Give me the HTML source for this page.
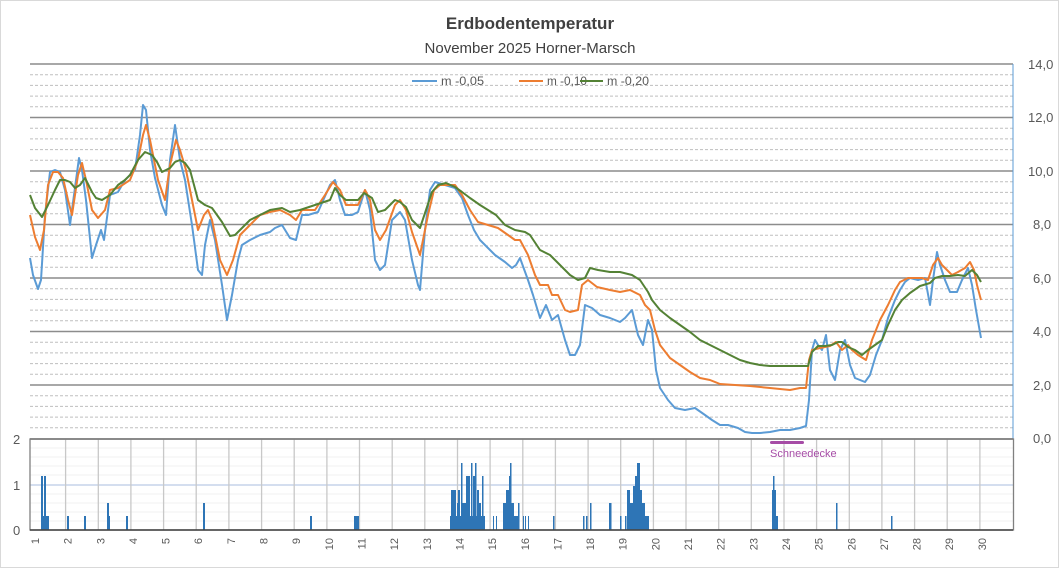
<!DOCTYPE html>
<html><head><meta charset="utf-8"><style>
html,body{margin:0;padding:0;background:#fff}
svg{display:block;font-family:"Liberation Sans",sans-serif}
</style></head><body>
<svg width="1059" height="568" viewBox="0 0 1059 568" xmlns="http://www.w3.org/2000/svg">
<rect x="0.5" y="0.5" width="1058" height="567" fill="#fff" stroke="#d9d9d9"/>
<text x="530" y="29" text-anchor="middle" font-size="17" font-weight="bold" fill="#404040">Erdbodentemperatur</text>
<text x="530" y="53" text-anchor="middle" font-size="15" fill="#404040">November  2025 Horner-Marsch</text>
<g stroke="#bfbfbf" stroke-width="1" stroke-dasharray="3,2">
<line x1="30" x2="1013" y1="74.7" y2="74.7"/><line x1="30" x2="1013" y1="85.4" y2="85.4"/><line x1="30" x2="1013" y1="96.1" y2="96.1"/><line x1="30" x2="1013" y1="106.8" y2="106.8"/>
<line x1="30" x2="1013" y1="128.2" y2="128.2"/><line x1="30" x2="1013" y1="138.9" y2="138.9"/><line x1="30" x2="1013" y1="149.6" y2="149.6"/><line x1="30" x2="1013" y1="160.3" y2="160.3"/>
<line x1="30" x2="1013" y1="181.7" y2="181.7"/><line x1="30" x2="1013" y1="192.4" y2="192.4"/><line x1="30" x2="1013" y1="203.1" y2="203.1"/><line x1="30" x2="1013" y1="213.8" y2="213.8"/>
<line x1="30" x2="1013" y1="235.2" y2="235.2"/><line x1="30" x2="1013" y1="245.9" y2="245.9"/><line x1="30" x2="1013" y1="256.6" y2="256.6"/><line x1="30" x2="1013" y1="267.3" y2="267.3"/>
<line x1="30" x2="1013" y1="288.7" y2="288.7"/><line x1="30" x2="1013" y1="299.4" y2="299.4"/><line x1="30" x2="1013" y1="310.1" y2="310.1"/><line x1="30" x2="1013" y1="320.8" y2="320.8"/>
<line x1="30" x2="1013" y1="342.2" y2="342.2"/><line x1="30" x2="1013" y1="352.9" y2="352.9"/><line x1="30" x2="1013" y1="363.6" y2="363.6"/><line x1="30" x2="1013" y1="374.3" y2="374.3"/>
<line x1="30" x2="1013" y1="395.7" y2="395.7"/><line x1="30" x2="1013" y1="406.4" y2="406.4"/><line x1="30" x2="1013" y1="417.1" y2="417.1"/><line x1="30" x2="1013" y1="427.8" y2="427.8"/>
</g>
<g stroke="#8c8c8c" stroke-width="1.5">
<line x1="30" x2="1013" y1="64" y2="64"/><line x1="30" x2="1013" y1="117.5" y2="117.5"/><line x1="30" x2="1013" y1="171" y2="171"/><line x1="30" x2="1013" y1="224.5" y2="224.5"/><line x1="30" x2="1013" y1="278" y2="278"/><line x1="30" x2="1013" y1="331.5" y2="331.5"/><line x1="30" x2="1013" y1="385" y2="385"/>
</g>
<line x1="1013" x2="1013" y1="64" y2="439" stroke="#5b9bd5" stroke-width="1"/>
<g font-size="13" fill="#595959">
<text x="1028" y="69">14,0</text><text x="1028" y="122">12,0</text><text x="1028" y="176">10,0</text><text x="1033" y="229">8,0</text><text x="1033" y="283">6,0</text><text x="1033" y="336">4,0</text><text x="1033" y="390">2,0</text><text x="1033" y="443">0,0</text>
</g>
<!-- legend -->
<g font-size="12" fill="#595959">
<line x1="412" x2="437" y1="81" y2="81" stroke="#5b9bd5" stroke-width="2"/><text x="441" y="85" textLength="43" lengthAdjust="spacingAndGlyphs">m -0,05</text>
<line x1="519" x2="543" y1="81" y2="81" stroke="#ed7d31" stroke-width="2"/><text x="547" y="85" textLength="40" lengthAdjust="spacingAndGlyphs">m -0,10</text>
<line x1="580" x2="603" y1="81" y2="81" stroke="#548235" stroke-width="2"/><text x="607" y="85" textLength="42" lengthAdjust="spacingAndGlyphs">m -0,20</text>
</g>
<!-- lower panel -->
<g stroke="#f0f0f0" stroke-width="1">
<line x1="30" x2="1013" y1="448" y2="448"/><line x1="30" x2="1013" y1="457" y2="457"/><line x1="30" x2="1013" y1="466" y2="466"/><line x1="30" x2="1013" y1="475" y2="475"/>
<line x1="30" x2="1013" y1="494" y2="494"/><line x1="30" x2="1013" y1="503" y2="503"/><line x1="30" x2="1013" y1="512" y2="512"/><line x1="30" x2="1013" y1="521" y2="521"/>
</g>
<line x1="30" x2="1013" y1="485" y2="485" stroke="#a9bedf" stroke-width="1"/>
<g stroke="#c8c8c8" stroke-width="1.3">
<line x1="65.6" x2="65.6" y1="439" y2="530"/><line x1="98.3" x2="98.3" y1="439" y2="530"/><line x1="130.9" x2="130.9" y1="439" y2="530"/><line x1="163.6" x2="163.6" y1="439" y2="530"/><line x1="196.2" x2="196.2" y1="439" y2="530"/><line x1="228.9" x2="228.9" y1="439" y2="530"/><line x1="261.6" x2="261.6" y1="439" y2="530"/><line x1="294.2" x2="294.2" y1="439" y2="530"/><line x1="326.9" x2="326.9" y1="439" y2="530"/><line x1="359.5" x2="359.5" y1="439" y2="530"/><line x1="392.2" x2="392.2" y1="439" y2="530"/><line x1="424.8" x2="424.8" y1="439" y2="530"/><line x1="457.5" x2="457.5" y1="439" y2="530"/><line x1="490.1" x2="490.1" y1="439" y2="530"/><line x1="522.8" x2="522.8" y1="439" y2="530"/><line x1="555.4" x2="555.4" y1="439" y2="530"/><line x1="588.1" x2="588.1" y1="439" y2="530"/><line x1="620.7" x2="620.7" y1="439" y2="530"/><line x1="653.4" x2="653.4" y1="439" y2="530"/><line x1="686" x2="686" y1="439" y2="530"/><line x1="718.7" x2="718.7" y1="439" y2="530"/><line x1="751.3" x2="751.3" y1="439" y2="530"/><line x1="784" x2="784" y1="439" y2="530"/><line x1="816.6" x2="816.6" y1="439" y2="530"/><line x1="849.3" x2="849.3" y1="439" y2="530"/><line x1="881.9" x2="881.9" y1="439" y2="530"/><line x1="914.6" x2="914.6" y1="439" y2="530"/><line x1="947.2" x2="947.2" y1="439" y2="530"/><line x1="979.9" x2="979.9" y1="439" y2="530"/>
</g>
<!-- bars -->
<g fill="#2e75b6">
<rect x="41" y="476" width="2" height="54"/><rect x="44" y="476" width="2" height="54"/><rect x="42" y="516" width="7" height="14"/>
<rect x="67" y="516" width="2" height="14"/><rect x="84" y="516" width="2" height="14"/><rect x="107" y="503" width="2" height="27"/><rect x="109" y="516" width="1" height="14"/><rect x="126" y="516" width="2" height="14"/>
<rect x="203" y="503" width="2" height="27"/><rect x="310" y="516" width="2" height="14"/><rect x="354" y="516" width="5" height="14"/>
<rect x="450" y="516" width="35" height="14"/><rect x="451" y="490" width="5" height="40"/><rect x="457" y="503" width="2" height="27"/><rect x="458" y="490" width="2" height="40"/><rect x="461" y="463" width="1.5" height="67"/><rect x="462" y="503" width="3" height="27"/><rect x="465" y="503" width="2" height="27"/><rect x="466" y="476" width="4" height="54"/><rect x="471" y="463" width="1.5" height="67"/><rect x="473" y="476" width="2" height="54"/><rect x="475" y="463" width="1.5" height="67"/><rect x="477" y="490" width="2" height="40"/><rect x="478" y="503" width="3" height="27"/><rect x="482" y="476" width="1.5" height="54"/>
<rect x="493" y="516" width="1" height="14"/><rect x="496" y="516" width="1" height="14"/><rect x="503" y="503" width="4" height="27"/><rect x="506" y="490" width="4" height="40"/><rect x="509" y="476" width="1" height="54"/><rect x="510" y="463" width="1.5" height="67"/><rect x="510" y="503" width="4" height="27"/><rect x="514" y="516" width="4" height="14"/><rect x="518" y="503" width="1.5" height="27"/><rect x="523" y="516" width="1" height="14"/><rect x="525" y="516" width="1" height="14"/><rect x="528" y="516" width="1" height="14"/>
<rect x="553" y="516" width="1.5" height="14"/><rect x="583" y="516" width="1.5" height="14"/><rect x="586" y="516" width="1.5" height="14"/><rect x="590" y="503" width="1.5" height="27"/><rect x="609" y="503" width="2.5" height="27"/><rect x="620" y="516" width="1.5" height="14"/><rect x="625" y="516" width="1.5" height="14"/><rect x="627" y="490" width="3" height="40"/><rect x="630" y="503" width="3" height="27"/><rect x="633" y="486" width="2" height="44"/><rect x="635" y="476" width="2" height="54"/><rect x="637" y="463" width="3" height="67"/><rect x="640" y="490" width="2" height="40"/><rect x="642" y="503" width="3" height="27"/><rect x="645" y="516" width="4" height="14"/>
<rect x="772" y="490" width="4" height="40"/><rect x="773" y="476" width="1.5" height="54"/><rect x="776" y="516" width="2" height="14"/>
<rect x="836" y="503" width="1.5" height="27"/><rect x="891" y="516" width="1.5" height="14"/>
</g>
<rect x="30" y="439" width="983.5" height="91" fill="none" stroke="#808080" stroke-width="1.3"/>
<line x1="30" x2="1013" y1="439" y2="439" stroke="#7f7f7f" stroke-width="1.8"/>
<line x1="30" x2="1013" y1="530" y2="530" stroke="#404040" stroke-width="1.5"/>
<g font-size="13" fill="#595959"><text x="13" y="444">2</text><text x="13" y="490">1</text><text x="13" y="535">0</text></g>
<rect x="770" y="441" width="34" height="3" rx="1.5" fill="#a64ca6"/>
<text x="770" y="457" font-size="11" fill="#a64ca6">Schneedecke</text>
<!-- x labels -->
<g font-size="11" fill="#595959" text-anchor="end">
<text transform="translate(39,538) rotate(-90)">1</text><text transform="translate(71.6,538) rotate(-90)">2</text><text transform="translate(104.3,538) rotate(-90)">3</text><text transform="translate(136.9,538) rotate(-90)">4</text><text transform="translate(169.6,538) rotate(-90)">5</text><text transform="translate(202.2,538) rotate(-90)">6</text><text transform="translate(234.9,538) rotate(-90)">7</text><text transform="translate(267.6,538) rotate(-90)">8</text><text transform="translate(300.2,538) rotate(-90)">9</text><text transform="translate(332.9,538) rotate(-90)">10</text><text transform="translate(365.5,538) rotate(-90)">11</text><text transform="translate(398.2,538) rotate(-90)">12</text><text transform="translate(430.8,538) rotate(-90)">13</text><text transform="translate(463.5,538) rotate(-90)">14</text><text transform="translate(496.1,538) rotate(-90)">15</text><text transform="translate(528.8,538) rotate(-90)">16</text><text transform="translate(561.4,538) rotate(-90)">17</text><text transform="translate(594.1,538) rotate(-90)">18</text><text transform="translate(626.7,538) rotate(-90)">19</text><text transform="translate(659.4,538) rotate(-90)">20</text><text transform="translate(692,538) rotate(-90)">21</text><text transform="translate(724.7,538) rotate(-90)">22</text><text transform="translate(757.3,538) rotate(-90)">23</text><text transform="translate(790,538) rotate(-90)">24</text><text transform="translate(822.6,538) rotate(-90)">25</text><text transform="translate(855.3,538) rotate(-90)">26</text><text transform="translate(887.9,538) rotate(-90)">27</text><text transform="translate(920.6,538) rotate(-90)">28</text><text transform="translate(953.2,538) rotate(-90)">29</text><text transform="translate(985.9,538) rotate(-90)">30</text>
</g>
<!-- series -->
<g fill="none" stroke-width="2" stroke-linejoin="round">
<polyline stroke="#5b9bd5" points="30,258 33,275 38,289 41,280 45,215 50,172 55,170 60,172 65,190 70,225 74,195 79,158 82,170 86,200 92,258 96,245 101,230 104,240 110,195 118,192 125,180 135,170 140,135 143,105 146,110 150,150 155,178 162,205 166,215 170,160 175,125 180,160 185,180 192,225 198,270 202,275 205,245 210,220 215,240 222,285 227,320 232,295 238,260 242,245 250,240 260,235 270,232 275,228 282,225 290,238 296,240 302,215 308,215 318,212 330,185 335,180 340,200 345,215 352,215 358,212 365,190 370,210 375,260 380,270 385,265 392,220 400,212 405,220 412,260 418,285 420,290 425,230 430,190 435,182 445,185 455,188 462,198 468,215 474,230 480,240 488,248 495,255 505,262 512,268 516,265 520,258 528,280 533,295 540,318 546,305 552,320 558,315 565,340 570,355 575,355 580,345 585,305 592,308 600,315 610,318 620,322 625,318 632,310 638,335 643,345 648,320 652,330 656,370 660,388 668,400 675,408 685,410 695,408 705,415 712,420 720,425 728,425 738,428 745,432 752,433 760,433 770,432 780,430 790,430 800,428 806,426 809,400 812,350 815,340 818,345 822,350 826,335 830,370 835,380 840,350 845,340 850,365 855,378 860,380 865,382 870,375 876,355 882,340 888,318 895,300 900,290 905,282 910,278 918,280 925,278 930,305 933,280 937,252 940,265 945,280 950,292 957,292 962,280 968,268 972,285 976,310 981,338"/>
<polyline stroke="#ed7d31" points="30,215 35,237 40,250 44,230 48,185 53,172 58,172 63,178 68,200 72,215 78,175 82,163 86,180 92,210 98,218 105,210 110,190 118,188 130,180 138,160 143,135 146,125 150,140 158,180 165,200 170,165 176,140 180,150 186,170 192,200 198,230 204,215 208,210 212,220 220,260 227,275 233,260 240,235 250,225 260,215 270,212 280,210 290,215 296,220 302,210 315,210 325,195 333,182 340,190 346,205 352,205 358,205 365,190 370,200 375,230 380,240 386,230 395,205 400,200 406,210 412,232 420,255 428,215 434,190 440,185 455,185 462,195 470,210 478,222 488,225 498,228 508,235 515,240 520,240 528,255 535,275 540,285 548,285 552,295 558,295 565,310 570,312 578,310 582,285 588,280 597,287 610,290 620,292 630,290 640,295 645,305 650,310 655,330 660,345 670,358 680,365 690,372 700,378 710,380 720,384 735,385 750,386 770,388 790,390 800,388 806,388 809,360 812,350 820,348 830,346 836,342 842,350 848,345 852,350 858,355 866,360 872,340 880,320 888,305 895,290 900,282 908,278 915,278 922,278 928,280 933,265 938,258 942,265 947,270 952,275 958,272 965,268 970,262 974,270 977,285 981,300"/>
<polyline stroke="#548235" points="30,195 35,208 42,217 48,205 55,190 60,180 65,180 70,182 75,188 80,185 85,178 92,192 96,198 102,200 110,195 118,185 125,180 130,175 138,160 145,152 152,155 157,162 162,172 170,168 175,162 180,160 185,163 190,170 198,200 205,205 212,208 222,222 230,236 235,235 242,228 250,220 260,215 270,210 282,208 290,212 300,210 315,205 330,200 335,188 340,195 346,200 352,200 358,200 364,193 372,198 378,212 385,210 395,200 400,202 406,207 412,220 420,228 426,210 432,192 438,185 446,183 455,187 462,192 470,198 480,205 488,210 496,215 505,225 515,230 525,232 530,235 540,250 550,255 560,265 570,275 578,280 585,278 590,268 598,270 610,272 620,272 632,275 640,280 648,292 652,300 660,310 670,318 680,325 690,332 700,340 710,345 720,350 730,355 740,360 750,363 760,365 770,366 780,366 790,366 800,366 808,366 812,352 818,346 825,346 832,345 838,342 842,342 848,347 855,350 862,355 868,350 875,345 882,340 888,325 895,310 902,300 910,293 920,286 930,283 935,278 942,276 950,276 958,275 965,276 972,270 977,275 981,282"/>
</g>
</svg>
</body></html>
